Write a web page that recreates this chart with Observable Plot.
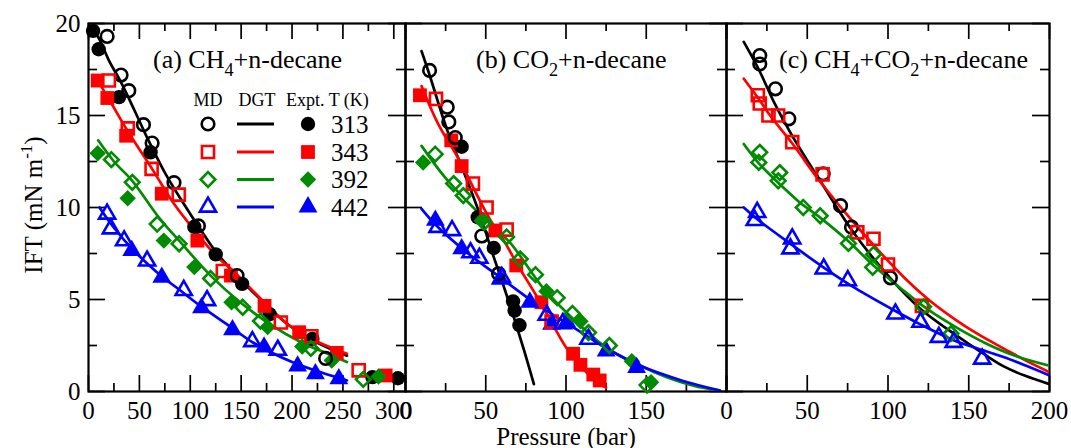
<!DOCTYPE html>
<html><head><meta charset="utf-8">
<script src="https://cdn.jsdelivr.net/npm/d3@7"></script>
<script src="https://cdn.jsdelivr.net/npm/@observablehq/plot@0.6"></script>
<style>
body{margin:0;background:#fff;}
#wrap{position:relative;width:1071px;height:448px;overflow:hidden;font-family:"Liberation Serif","Times New Roman",serif;background:#fff;}
#wrap svg{position:absolute;top:0;}
</style></head><body><div id="wrap"></div>
<script>
// ---------- data: [T (K), pressure (bar), IFT (mN/m)] ----------
const temps = [313, 343, 392, 442];
const colors = ["#000000", "#ff0000", "#008b00", "#0000ff"];
const symbolNames = ["circle", "square", "diamond2", "triangle"];

const aExpt = [
 [313,4.5,19.6],[313,10,18.6],[313,30,16.0],[313,61,13.0],[313,104,8.95],[313,125,7.45],[313,151,5.85],[313,178,4.2],[313,220,2.86],[313,279,0.78],[313,304,0.72],
 [343,9,16.9],[343,18.5,15.95],[343,37,13.9],[343,72,10.75],[343,107,8.2],[343,140,6.3],[343,173,4.65],[343,207,3.22],[343,244,2.1],[343,292,0.87],
 [392,9,12.95],[392,38.5,10.5],[392,74,8.2],[392,104,6.76],[392,140.5,4.85],[392,176,3.5],[392,210,2.45],[392,239,1.68],[392,285,0.82],
 [442,42.5,7.66],[442,72,6.2],[442,111,4.55],[442,141.5,3.35],[442,172.5,2.41],[442,205.5,1.38],[442,223,0.96],[442,246,0.69]
];
const aMD = [
 [313,18.3,19.3],[313,32,17.2],[313,39.6,16.35],[313,54,14.5],[313,62.5,13.5],[313,84,11.35],[313,108,9.0],[313,146,6.3],[313,233,1.8],
 [343,20,16.9],[343,38.6,14.3],[343,62,12.1],[343,88.7,10.7],[343,132,6.55],[343,189,3.75],[343,219,3.0],[343,265.5,1.15],
 [392,22.5,12.6],[392,43,11.37],[392,67.5,9.1],[392,89,8.03],[392,120,6.14],[392,151.5,4.58],[392,169,3.83],[392,218.5,2.34],[392,270,0.66],
 [442,18.3,9.65],[442,22,8.85],[442,35,8.2],[442,57.6,7.1],[442,93.6,5.5],[442,116.5,4.95],[442,161,2.72],[442,186,2.25]
];
const aDGT = [
 [313,8,19.4],[313,12,19.0],[313,20,18.0],[313,32,16.8],[313,45,15.3],[313,57.6,13.8],[313,75,11.9],[313,93.6,10.2],[313,110,8.8],[313,125,7.6],[313,144,6.4],[313,170,4.95],[313,197,3.6],[313,225,2.65],[313,254,1.95],
 [343,5,17.2],[343,10,16.8],[343,20,15.9],[343,38,14.2],[343,62.5,12.1],[343,84,10.2],[343,105,8.7],[343,125,7.4],[343,144,6.45],[343,170,5.0],[343,197,3.6],[343,225,2.7],[343,254,2.05],
 [392,9.5,13.65],[392,25,12.5],[392,43,11.45],[392,70,9.4],[392,89,8.2],[392,120,6.3],[392,149,4.85],[392,180,3.6],[392,210,2.65],[392,235,2.05],[392,254,1.6],
 [442,10.8,10.0],[442,25,8.9],[442,44.5,7.66],[442,70,6.35],[442,90,5.5],[442,110,4.65],[442,140,3.5],[442,162,2.65],[442,200,1.6],[442,225,1.1],[442,254,0.6]
];

const bExpt = [
 [313,35,13.3],[313,45,9.47],[313,55,7.8],[313,67,4.9],[313,68,4.4],[313,71,3.6],
 [343,9,16.1],[343,28.5,13.65],[343,35,12.25],[343,56,8.75],[343,69,6.85],[343,84.7,4.85],[343,104.4,2.05],[343,109,1.45],[343,117,0.92],[343,121,0.6],
 [392,11,12.45],[392,47.5,9.3],[392,87.8,5.45],[392,109,3.82],[392,141,1.65],[392,153,0.5],
 [442,18.6,9.3],[442,35,7.75],[442,59,6.1],[442,77.5,4.85],[442,91,3.65],[442,100.5,3.77],[442,125,2.2],[442,144,1.3]
];
const bMD = [
 [313,15,17.45],[313,26,15.45],[313,27,14.65],[313,31,13.8],[313,47.5,8.45],[313,58,6.4],
 [343,19,15.9],[343,42,11.3],[343,50.5,10.0],[343,63,8.8],[343,91,3.8],
 [392,18.5,12.9],[392,30,11.3],[392,36,10.65],[392,49,9.2],[392,63,8.4],[392,71.5,7.2],[392,81,6.35],[392,94.5,5.1],[392,104,4.24],[392,114,3.2],[392,127,2.5],[392,150.5,0.35],
 [442,20,8.93],[442,29,8.75],[442,40.5,7.55],[442,46,7.25],[442,60,6.2],[442,88,4.15],[442,98,3.7],[442,114,2.85]
];
const bDGT = [
 [313,10,18.5],[313,15,17.2],[313,26,14.2],[313,36,12.0],[313,46,9.7],[313,55,7.3],[313,62,5.5],[313,68,3.9],[313,74,2.2],[313,80,0.4],
 [343,10,16.6],[343,20,14.6],[343,34,12.5],[343,45,10.6],[343,53,9.3],[343,62,8.1],[343,69,7.0],[343,76,6.0],[343,84,4.85],[343,92,3.6],[343,100,2.4],[343,110,1.3],[343,118,0.6],[343,125,0.2],
 [392,10,13.35],[392,25,11.6],[392,48,9.5],[392,65,8.1],[392,86,5.6],[392,105,3.9],[392,125,2.4],[392,145,1.45],[392,162,0.8],[392,180,0.3],[392,196,0.05],
 [442,10,9.93],[442,20,8.95],[442,38,7.57],[442,59,6.2],[442,80,4.85],[442,95,4.0],[442,108,3.3],[442,125,2.35],[442,146,1.41],[442,172,0.6],[442,196,0.05]
];

const cMD = [
 [313,20.6,18.26],[313,20.6,17.8],[313,30.3,16.45],[313,38.6,14.82],[313,59.9,11.83],[313,70.6,10.1],[313,77.4,8.93],[313,101.5,6.18],
 [343,19.4,16.1],[343,20.6,15.65],[343,26,15.0],[343,32,15.0],[343,40.7,13.55],[343,59.5,11.8],[343,81,8.65],[343,91,8.3],[343,100,6.9],[343,121,4.65],
 [392,20.6,13.0],[392,20,12.45],[392,33,11.9],[392,32,11.45],[392,47.5,10.0],[392,58,9.55],[392,75.5,8.05],[392,91,7.45],[392,90.5,6.75],[392,122,4.6],[392,139,3.15],
 [442,19,9.74],[442,17.5,9.3],[442,40.7,8.3],[442,39.6,7.76],[442,60.2,6.67],[442,75.1,6.03],[442,104.6,4.22],[442,120.1,3.77],[442,131.5,2.95],[442,140.7,2.68],[442,158.3,1.77]
];
const cDGT = [
 [313,10.7,19.0],[313,20,17.5],[313,29,15.8],[313,40,14.0],[313,58,11.45],[313,79,8.6],[313,101,6.2],[313,120,4.5],[313,141,3.13],[313,160,2.0],[313,172,1.35],[313,185,0.85],[313,200,0.4],
 [343,10.7,17.0],[343,20,15.9],[343,27,15.0],[343,41,13.45],[343,58,11.4],[343,83,8.75],[343,110,6.2],[343,125,5.0],[343,141,3.95],[343,156,3.1],[343,172,2.32],[343,186,1.65],[343,200,1.05],
 [392,10.7,13.45],[392,20,12.4],[392,32,11.35],[392,45,10.3],[392,58,9.45],[392,75,8.2],[392,91,6.85],[392,108,5.6],[392,124,4.5],[392,142,3.5],[392,161,2.6],[392,180,1.9],[392,200,1.4],
 [442,10.7,10.0],[442,20,9.3],[442,40,8.0],[442,60,6.75],[442,80,5.6],[442,104,4.4],[442,120,3.65],[442,141,2.77],[442,155,2.35],[442,172,1.86],[442,186,1.38],[442,200,0.87]
];

// ticks and labels
const xMajorA = [0,50,100,150,200,250,300];
const xMinorA = [25,75,125,175,225,275];
const xLabelsA = [0,50,100,150,200,250,300];
const xMajorBC = [0,50,100,150,200];
const xMinorBC = [25,75,125,175];
const xLabelsB = [0,50,100,150];
const xLabelsC = [0,50,100,150,200];
const yMajor = [0,5,10,15,20];
const yMinor = [2.5,7.5,12.5,17.5];
const yLabels = [0,5,10,15,20];

// ---------- styling ----------
const FONT = "Liberation Serif, Times New Roman, serif";
const openR = [6.3, 6.8, 6.6, 6.0];
const fillR = [7.2, 7.8, 7.4, 7.0];
const openSW = 2.6;
const frameTop = 23, frameBottom = 391, H = 448;
const toRows = arr => arr.map(([t, x, y]) => ({t, x, y}));

function makePanel(o) {
  const fh = frameBottom - frameTop;
  const fw = o.W - o.mL - o.mR;
  const majL = 16, minL = 8, tsw = 1.7;
  const marks = [Plot.frame({stroke: "black", strokeWidth: 2.2})];
  for (const [vals, len] of [[o.xMajor, majL], [o.xMinor, minL]]) {
    marks.push(Plot.tickX(vals, {x: d => d, insetTop: fh - len, stroke: "black", strokeWidth: tsw}));
    marks.push(Plot.tickX(vals, {x: d => d, insetBottom: fh - len, stroke: "black", strokeWidth: tsw}));
  }
  for (const [vals, len] of [[yMajor, majL + 1], [yMinor, minL + 1]]) {
    marks.push(Plot.tickY(vals, {y: d => d, insetRight: fw - len, stroke: "black", strokeWidth: tsw}));
    marks.push(Plot.tickY(vals, {y: d => d, insetLeft: fw - len, stroke: "black", strokeWidth: tsw}));
  }
  marks.push(Plot.axisX({ticks: o.xLabels, tickSize: 0, tickPadding: 10, fontSize: 25, fontFamily: FONT, label: null, tickFormat: d => String(d)}));
  if (o.yAxis) marks.push(Plot.axisY({ticks: yLabels, tickSize: 0, tickPadding: 8, fontSize: 25, fontFamily: FONT, label: null, tickFormat: d => String(d)}));
  const md = toRows(o.md), ex = toRows(o.expt || []), dg = toRows(o.dgt);
  temps.forEach((T, i) => {
    marks.push(Plot.line(dg.filter(d => d.t === T), {x: "x", y: "y", stroke: colors[i], strokeWidth: 2.7, curve: "catmull-rom", clip: true}));
  });
  temps.forEach((T, i) => {
    marks.push(Plot.dot(ex.filter(d => d.t === T), {x: "x", y: "y", symbol: symbolNames[i], r: fillR[i], fill: colors[i], stroke: "none"}));
  });
  temps.forEach((T, i) => {
    marks.push(Plot.dot(md.filter(d => d.t === T), {x: "x", y: "y", symbol: symbolNames[i], r: openR[i], fill: "none", stroke: colors[i], strokeWidth: openSW}));
  });
  const svg = Plot.plot({
    width: o.W, height: H,
    marginLeft: o.mL, marginRight: o.mR, marginTop: frameTop, marginBottom: H - frameBottom,
    x: {domain: o.xDomain, axis: null},
    y: {domain: [0, 20], axis: null},
    style: {background: "transparent", overflow: "visible", maxWidth: "none", fontFamily: FONT},
    marks
  });
  svg.style.left = o.left + "px";
  return svg;
}

const wrap = document.getElementById("wrap");
wrap.appendChild(makePanel({left: 0, W: 420, mL: 88, mR: 15, xDomain: [0, 311.5], xMajor: xMajorA, xMinor: xMinorA, xLabels: xLabelsA, yAxis: true, expt: aExpt, md: aMD, dgt: aDGT}));
wrap.appendChild(makePanel({left: 390, W: 351, mL: 15, mR: 15, xDomain: [0, 200], xMajor: xMajorBC, xMinor: xMinorBC, xLabels: xLabelsB, yAxis: false, expt: bExpt, md: bMD, dgt: bDGT}));
wrap.appendChild(makePanel({left: 711, W: 360, mL: 15, mR: 22, xDomain: [0, 200], xMajor: xMajorBC, xMinor: xMinorBC, xLabels: xLabelsC, yAxis: false, expt: [], md: cMD, dgt: cDGT}));

// ---------- overlay: titles, legend, axis labels ----------
const ov = d3.select(wrap).append("svg").attr("width", 1071).attr("height", H)
  .style("left", "0px").style("pointer-events", "none").style("overflow", "visible")
  .attr("font-family", FONT).attr("fill", "black");

function chem(x, y, parts, size) {
  const t = ov.append("text").attr("x", x).attr("y", y).attr("font-size", size);
  let shifted = false;
  for (const [s, sub] of parts) {
    const sp = t.append("tspan").text(s);
    if (sub && !shifted) { sp.attr("dy", 8).attr("font-size", size * 0.7); shifted = true; }
    else if (!sub && shifted) { sp.attr("dy", -8); shifted = false; }
  }
  return t;
}
chem(153, 68, [["(a) CH"], ["4", true], ["+n-decane"]], 26);
chem(476, 68, [["(b) CO"], ["2", true], ["+n-decane"]], 26);
chem(779, 68, [["(c) CH"], ["4", true], ["+CO"], ["2", true], ["+n-decane"]], 26);

// legend
ov.append("text").attr("x", 208).attr("y", 106).attr("font-size", 18).attr("text-anchor", "middle").text("MD");
ov.append("text").attr("x", 257).attr("y", 106).attr("font-size", 18).attr("text-anchor", "middle").text("DGT");
ov.append("text").attr("x", 286).attr("y", 106).attr("font-size", 18).text("Expt. T (K)");
const d3sym = {circle: d3.symbolCircle, square: d3.symbolSquare, diamond2: d3.symbolDiamond2, triangle: d3.symbolTriangle};
const rowY = [124, 152, 179.5, 207];
temps.forEach((T, i) => {
  const y = rowY[i];
  ov.append("path").attr("transform", `translate(208,${y})`)
    .attr("d", d3.symbol(d3sym[symbolNames[i]], Math.PI * openR[i] * openR[i])())
    .attr("fill", "none").attr("stroke", colors[i]).attr("stroke-width", openSW);
  ov.append("line").attr("x1", 237).attr("x2", 274).attr("y1", y).attr("y2", y)
    .attr("stroke", colors[i]).attr("stroke-width", 2.8);
  ov.append("path").attr("transform", `translate(308,${y})`)
    .attr("d", d3.symbol(d3sym[symbolNames[i]], Math.PI * fillR[i] * fillR[i])())
    .attr("fill", colors[i]);
  ov.append("text").attr("x", 331).attr("y", y + 8.7).attr("font-size", 25).text(String(T));
});

// axis titles
const yl = ov.append("text").attr("transform", "translate(42,205) rotate(-90)").attr("text-anchor", "middle").attr("font-size", 25);
yl.append("tspan").text("IFT (mN m");
yl.append("tspan").attr("dy", -10).attr("font-size", 17).text("-1");
yl.append("tspan").attr("dy", 10).text(")");
ov.append("text").attr("x", 566).attr("y", 445).attr("text-anchor", "middle").attr("font-size", 25).text("Pressure (bar)");
</script></body></html>
